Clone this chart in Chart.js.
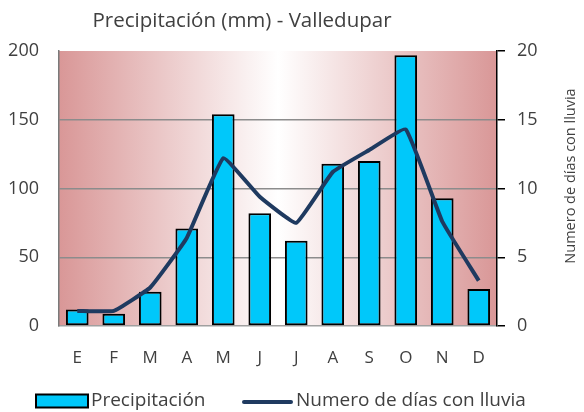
<!DOCTYPE html>
<html>
<head>
<meta charset="utf-8">
<script src="https://cdn.jsdelivr.net/npm/chart.js@4"></script>
<style>
    html, body { margin: 0; padding: 0; background: #fff; }
    #wrap { width: 584px; height: 412px; }
</style>
</head>
<body>
<div id="wrap"><canvas id="climaChart" width="584" height="412"></canvas></div>
<script>
// Valores
const meses = ['E', 'F', 'M', 'A', 'M', 'J', 'J', 'A', 'S', 'O', 'N', 'D'];
const precipitacion = [12, 9, 25, 71, 154, 82, 62, 118, 120, 197, 93, 27];
const diasLluvia = [1.1, 1.1, 2.8, 6.4, 12.2, 9.4, 7.5, 11.2, 12.8, 14.3, 7.6, 3.3];
const ticksPrecip = [0, 50, 100, 150, 200];
const ticksDias = [0, 5, 10, 15, 20];

const FONT = "'Open Sans', sans-serif";
const GREY = '#404040';
const BAR_COLOR = '#00c8fa';
const LINE_COLOR = '#1f3a60';

// gradient behind the bars, plus title / right axis title / legend
const decoraciones = {
    id: 'decoraciones',
    beforeDraw: chart => {
        const { ctx, chartArea: a } = chart;
        const g = ctx.createLinearGradient(a.left, 0, a.right, 0);
        g.addColorStop(0, '#d99797');
        g.addColorStop(0.5, '#ffffff');
        g.addColorStop(1, '#d99797');
        ctx.save();
        ctx.fillStyle = g;
        ctx.fillRect(a.left, a.top, a.right - a.left, a.bottom - a.top);
        ctx.restore();
    },
    afterDraw: chart => {
        const { ctx, chartArea: a } = chart;
        ctx.save();
        ctx.fillStyle = GREY;
        ctx.textBaseline = 'middle';

        // title
        ctx.font = `20.5px ${FONT}`;
        ctx.textAlign = 'center';
        ctx.fillText('Precipitación (mm) - Valledupar', 242, 21);

        // right axis title
        ctx.save();
        ctx.translate(571, 176);
        ctx.rotate(-Math.PI / 2);
        ctx.font = `14.5px ${FONT}`;
        ctx.fillText(chart.data.datasets[0].label, 0, 0);
        ctx.restore();

        // legend
        const ly = 401;
        ctx.textAlign = 'left';
        ctx.font = `19px ${FONT}`;
        ctx.fillStyle = BAR_COLOR;
        ctx.fillRect(36, ly - 6.5, 52, 13);
        ctx.strokeStyle = '#000';
        ctx.lineWidth = 2;
        ctx.strokeRect(36, ly - 6.5, 52, 13);
        ctx.fillStyle = GREY;
        ctx.fillText(chart.data.datasets[1].label, 91, ly);

        ctx.strokeStyle = LINE_COLOR;
        ctx.lineWidth = 4;
        ctx.lineCap = 'round';
        ctx.beginPath();
        ctx.moveTo(244, ly + 1);
        ctx.lineTo(291, ly + 1);
        ctx.stroke();
        ctx.fillText(chart.data.datasets[0].label, 296, ly);
        ctx.restore();
    }
};

new Chart(document.getElementById('climaChart'), {
    type: 'bar',
    data: {
        labels: meses,
        datasets: [{
            type: 'line',
            label: 'Numero de días con lluvia',
            data: diasLluvia,
            yAxisID: 'y1',
            borderColor: LINE_COLOR,
            backgroundColor: LINE_COLOR,
            borderWidth: 4,
            pointRadius: 0,
            tension: 0.1,
            order: 0
        }, {
            label: 'Precipitación',
            data: precipitacion,
            yAxisID: 'y',
            backgroundColor: BAR_COLOR,
            borderColor: '#000000',
            borderWidth: 2,
            borderSkipped: false,
            barPercentage: 0.62,
            categoryPercentage: 1,
            order: 1
        }]
    },
    options: {
        responsive: false,
        animation: false,
        layout: { padding: { top: 51, bottom: 0, left: 0, right: 0 } },
        scales: {
            x: {
                grid: { display: false, drawTicks: false },
                border: { color: '#a0a0a0', width: 1.5 },
                ticks: { color: GREY, padding: 22, font: { family: FONT, size: 17 } },
                afterFit: s => { s.height = 86; }
            },
            y: {
                min: 0,
                max: 200,
                afterBuildTicks: s => { s.ticks = ticksPrecip.map(v => ({ value: v })); },
                grid: {
                    color: ctx => (ctx.tick.value === 0 || ctx.tick.value === 200) ? 'rgba(0,0,0,0)' : '#8c8c8c',
                    lineWidth: 1.5,
                    drawTicks: false
                },
                border: { color: '#7a7a7a', width: 1.5 },
                ticks: { color: GREY, padding: 20, font: { family: FONT, size: 18 } },
                afterFit: s => { s.width = 59; }
            },
            y1: {
                position: 'right',
                min: 0,
                max: 20,
                afterBuildTicks: s => { s.ticks = ticksDias.map(v => ({ value: v })); },
                grid: { drawOnChartArea: false, color: '#000', lineWidth: 1.5, tickLength: 8 },
                border: { color: '#000', width: 1.5 },
                ticks: { color: GREY, padding: 12, font: { family: FONT, size: 18 } },
                afterFit: s => { s.width = 87; }
            }
        },
        plugins: {
            title: { display: false },
            legend: { display: false },
            tooltip: { enabled: false }
        }
    },
    plugins: [decoraciones]
});
</script>
</body>
</html>
